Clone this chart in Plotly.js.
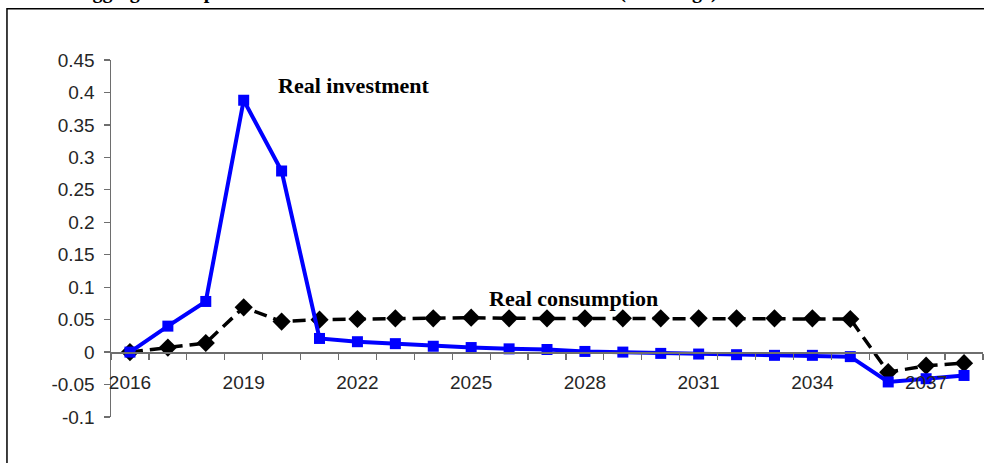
<!DOCTYPE html>
<html>
<head>
<meta charset="utf-8">
<script src="https://cdn.plot.ly/plotly-3.0.1.min.js"></script>
<style>
  html, body { margin: 0; padding: 0; background: #ffffff; }
  #chart { width: 984px; height: 463px; }
</style>
</head>
<body>
<div id="chart"></div>
<script>
// ---- data ----
const years = [2016, 2017, 2018, 2019, 2020, 2021, 2022, 2023, 2024, 2025, 2026, 2027,
               2028, 2029, 2030, 2031, 2032, 2033, 2034, 2035, 2036, 2037, 2038];
const realInvestment = [0.000, 0.040, 0.078, 0.388, 0.279, 0.021, 0.016, 0.013, 0.009, 0.007,
                        0.005, 0.004, 0.001, 0.000, -0.002, -0.003, -0.004, -0.005, -0.005,
                        -0.007, -0.046, -0.041, -0.036];
const realConsumption = [0.000, 0.007, 0.014, 0.069, 0.047, 0.050, 0.051, 0.052, 0.052, 0.053,
                         0.052, 0.052, 0.052, 0.052, 0.052, 0.052, 0.052, 0.052, 0.052,
                         0.051, -0.031, -0.021, -0.017];
const xTickVals = [2016, 2019, 2022, 2025, 2028, 2031, 2034, 2037];
const xTickText = ["2016", "2019", "2022", "2025", "2028", "2031", "2034", "2037"];
const yTickVals = [-0.1, -0.05, 0, 0.05, 0.1, 0.15, 0.2, 0.25, 0.3, 0.35, 0.4, 0.45];
const yTickText = ["-0.1", "-0.05", "0", "0.05", "0.1", "0.15", "0.2", "0.25", "0.3", "0.35", "0.4", "0.45"];
const seriesNames = ["Real consumption", "Real investment"];
const titleText = "Aggregate Output and Demand Effects of the Reform Scenario (% change)";

const tickFont = { family: "Arial, 'Liberation Sans', sans-serif", size: 19, color: "#262626" };
const labelFont = { family: "'Liberation Serif', 'Times New Roman', serif", size: 22, color: "#000000" };

const traces = [
  {
    x: years, y: realConsumption, name: seriesNames[0], type: "scatter", mode: "lines+markers",
    line: { color: "#000000", width: 3.5, dash: "13px,7px" },
    marker: { symbol: "diamond", size: 14, color: "#000000" },
    cliponaxis: false
  },
  {
    x: years, y: realInvestment, name: seriesNames[1], type: "scatter", mode: "lines+markers",
    line: { color: "#0000ff", width: 4 },
    marker: { symbol: "square", size: 11, color: "#0000ff" },
    cliponaxis: false
  }
];

const layout = {
  width: 984, height: 463,
  margin: { l: 111, r: 1, t: 60, b: 46 },
  paper_bgcolor: "#ffffff", plot_bgcolor: "#ffffff",
  showlegend: false,
  xaxis: {
    type: "linear", range: [2015.5, 2038.5], autorange: false,
    anchor: "free", position: 0.1 / 0.55,
    showline: true, linecolor: "#6e6e6e", linewidth: 1.5,
    showgrid: false, zeroline: false,
    tickvals: xTickVals, ticktext: xTickText,
    ticks: "", ticklabelstandoff: 13,
    minor: { tick0: 2015.5, dtick: 1, ticks: "outside", ticklen: 6, tickcolor: "#6e6e6e", tickwidth: 1.2, showgrid: false },
    tickfont: tickFont
  },
  yaxis: {
    range: [-0.1, 0.45], autorange: false,
    showline: true, linecolor: "#6e6e6e", linewidth: 1.5,
    showgrid: false, zeroline: false,
    tickvals: yTickVals, ticktext: yTickText,
    ticks: "outside", ticklen: 6, tickcolor: "#6e6e6e", tickwidth: 1.2,
    ticklabelstandoff: 5,
    tickfont: tickFont
  },
  shapes: [
    { type: "rect", xref: "paper", yref: "paper", x0: -0.1193, x1: 1.2, y0: -0.4, y1: 1.1439,
      line: { color: "#000000", width: 1.5 }, fillcolor: "rgba(0,0,0,0)", layer: "below" }
  ],
  annotations: [
    { xref: "x", yref: "y", x: 2021.9, y: 0.41, text: "<b>" + seriesNames[1] + "</b>",
      showarrow: false, font: labelFont, xanchor: "center", yanchor: "middle" },
    { xref: "x", yref: "y", x: 2027.7, y: 0.083, text: "<b>" + seriesNames[0] + "</b>",
      showarrow: false, font: labelFont, xanchor: "center", yanchor: "middle" },
    { xref: "paper", yref: "paper", x: -0.0401, y: 1.1545, text: "<b>" + titleText + "</b>",
      showarrow: false, font: { family: "'Liberation Serif', 'Times New Roman', serif", size: 20, color: "#000" },
      xanchor: "left", yanchor: "bottom" }
  ]
};

Plotly.newPlot("chart", traces, layout, { displayModeBar: false, staticPlot: true });
</script>
</body>
</html>
